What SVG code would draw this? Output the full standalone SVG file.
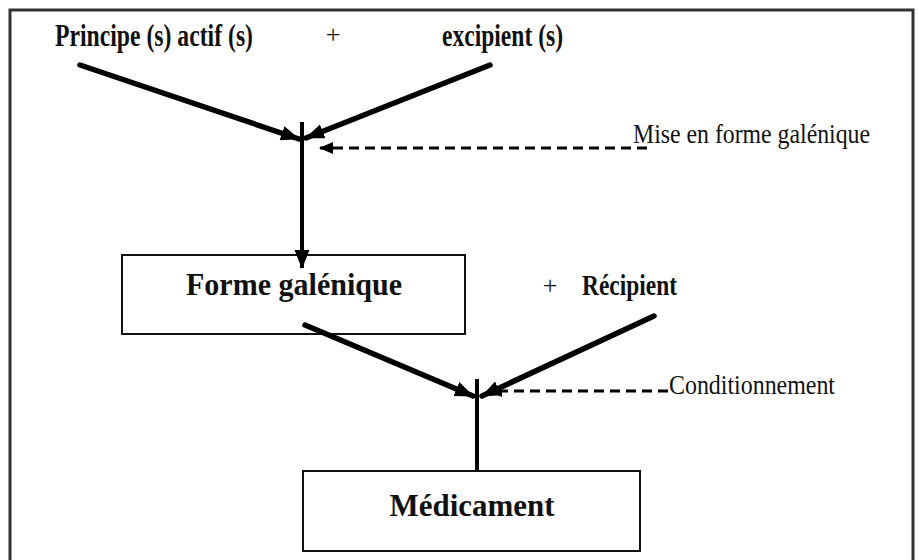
<svg xmlns="http://www.w3.org/2000/svg" width="919" height="560" viewBox="0 0 919 560">
  <style>
    .frame { fill: #fff; stroke: #333; stroke-width: 3; }
    .box { fill: #fff; stroke: #111; stroke-width: 2; }
    .flow { stroke: #000; stroke-width: 5.5; fill: none; stroke-linecap: round; }
    .stem { stroke: #000; stroke-width: 4; fill: none; }
    .dash { stroke: #000; stroke-width: 3; fill: none; stroke-dasharray: 10 6; }
    .lbl { font-family: "Liberation Serif", "Times New Roman", serif; fill: #111; }
    .b { font-weight: bold; }
  </style>
  <defs>
    <marker id="head" markerUnits="userSpaceOnUse" markerWidth="20" markerHeight="18" refX="18" refY="9" orient="auto">
      <path d="M0,1.5 L19,9 L0,16.5 Z" fill="#000"/>
    </marker>
    <marker id="headSmall" markerUnits="userSpaceOnUse" markerWidth="14" markerHeight="14" refX="13" refY="7" orient="auto">
      <path d="M0,1 L14,7 L0,13 Z" fill="#000"/>
    </marker>
  </defs>

  <!-- outer frame -->
  <rect class="frame" x="10" y="10" width="903" height="570"/>

  <!-- inputs -->
  <g id="principe">
    <text class="lbl b" x="55" y="46" font-size="32" textLength="198" lengthAdjust="spacingAndGlyphs">Principe (s) actif (s)</text>
  </g>
  <g id="plus1">
    <text class="lbl" x="333" y="43" font-size="26" text-anchor="middle">+</text>
  </g>
  <g id="excipient">
    <text class="lbl b" x="442" y="46" font-size="32" textLength="121" lengthAdjust="spacingAndGlyphs">excipient (s)</text>
  </g>

  <g id="mise-en-forme">
    <text class="lbl" x="633" y="143" font-size="27" textLength="237" lengthAdjust="spacingAndGlyphs">Mise en forme galénique</text>
  </g>

  <g id="forme-galenique">
    <rect class="box" x="122" y="255" width="343" height="79"/>
    <text class="lbl b" x="294" y="295" font-size="31" text-anchor="middle" textLength="216" lengthAdjust="spacingAndGlyphs">Forme galénique</text>
  </g>

  <g id="plus2">
    <text class="lbl" x="550" y="294" font-size="26" text-anchor="middle">+</text>
  </g>
  <g id="recipient">
    <text class="lbl b" x="582" y="295" font-size="29" textLength="95" lengthAdjust="spacingAndGlyphs">Récipient</text>
  </g>

  <g id="conditionnement">
    <text class="lbl" x="669" y="394" font-size="27" textLength="166" lengthAdjust="spacingAndGlyphs">Conditionnement</text>
  </g>

  <g id="medicament">
    <rect class="box" x="303" y="471" width="337" height="80"/>
    <text class="lbl b" x="472" y="516" font-size="32" text-anchor="middle" textLength="165" lengthAdjust="spacingAndGlyphs">Médicament</text>
  </g>

  <!-- connectors -->
  <g id="connectors">
    <!-- first merge -->
    <line class="flow" x1="80" y1="65" x2="299" y2="139" marker-end="url(#head)"/>
    <line class="flow" x1="490" y1="65" x2="306" y2="138" marker-end="url(#head)"/>
    <line class="stem" x1="302" y1="122" x2="302" y2="268" marker-end="url(#head)"/>
    <line class="dash" x1="647" y1="148" x2="320" y2="148" marker-end="url(#headSmall)"/>
    <!-- second merge -->
    <line class="flow" x1="305" y1="325" x2="473" y2="396" marker-end="url(#head)"/>
    <line class="flow" x1="654" y1="316" x2="482" y2="396" marker-end="url(#head)"/>
    <line class="stem" x1="477" y1="379" x2="477" y2="471"/>
    <line class="dash" x1="668" y1="391" x2="489" y2="391" marker-end="url(#headSmall)"/>
  </g>
</svg>
